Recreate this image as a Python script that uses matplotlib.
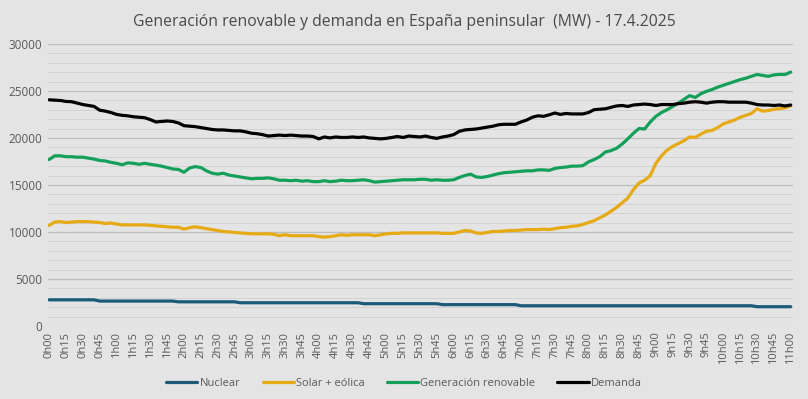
import matplotlib.pyplot as plt
from matplotlib.ticker import MultipleLocator

# 5-minute readings from 0h00 to 11h00 (133 points), MW
nuclear = [
    2780, 2780, 2780, 2780, 2780, 2780, 2780, 2780, 2780, 2650, 2650, 2650,
    2650, 2650, 2650, 2650, 2650, 2650, 2650, 2650, 2650, 2650, 2650, 2570,
    2570, 2570, 2570, 2570, 2570, 2570, 2570, 2570, 2570, 2570, 2470, 2470,
    2470, 2470, 2470, 2470, 2470, 2470, 2470, 2470, 2470, 2470, 2470, 2470,
    2470, 2470, 2470, 2470, 2470, 2470, 2470, 2470, 2370, 2370, 2370, 2370,
    2370, 2370, 2370, 2370, 2370, 2370, 2370, 2370, 2370, 2370, 2270, 2270,
    2270, 2270, 2270, 2270, 2270, 2270, 2270, 2270, 2270, 2270, 2270, 2270,
    2150, 2150, 2150, 2150, 2150, 2150, 2150, 2150, 2150, 2150, 2150, 2150,
    2150, 2150, 2150, 2150, 2150, 2150, 2150, 2150, 2150, 2150, 2150, 2150,
    2150, 2150, 2150, 2150, 2150, 2150, 2150, 2150, 2150, 2150, 2150, 2150,
    2150, 2150, 2150, 2150, 2150, 2150, 2050, 2050, 2050, 2050, 2050, 2050,
    2050,
]
solar_eolica = [
    10700, 11050, 11100, 11000, 11050, 11100, 11100, 11100, 11050, 11000, 10900, 10950,
    10850, 10750, 10750, 10750, 10750, 10750, 10700, 10650, 10600, 10550, 10500, 10500,
    10300, 10450, 10550, 10450, 10350, 10250, 10150, 10050, 10000, 9950, 9900, 9850,
    9800, 9800, 9800, 9800, 9750, 9600, 9700, 9600, 9600, 9600, 9600, 9600,
    9500, 9450, 9500, 9600, 9700, 9650, 9700, 9700, 9700, 9700, 9600, 9700,
    9800, 9850, 9850, 9900, 9900, 9900, 9900, 9900, 9900, 9900, 9850, 9850,
    9850, 10000, 10150, 10100, 9900, 9850, 9950, 10050, 10050, 10100, 10150, 10150,
    10200, 10250, 10250, 10250, 10300, 10250, 10350, 10450, 10500, 10600, 10650, 10800,
    11000, 11200, 11500, 11800, 12200, 12600, 13100, 13600, 14500, 15200, 15500, 16000,
    17300, 18100, 18700, 19100, 19400, 19700, 20100, 20050, 20400, 20700, 20800, 21100,
    21500, 21700, 21900, 22200, 22400, 22600, 23100, 22850, 22900, 23050, 23100, 23200,
    23400,
]
renovable = [
    17700, 18100, 18100, 18000, 18000, 17950, 17950, 17850, 17750, 17600, 17550, 17400,
    17300, 17150, 17350, 17300, 17200, 17300, 17200, 17100, 17000, 16850, 16700, 16650,
    16350, 16800, 16950, 16850, 16500, 16250, 16150, 16250, 16050, 15950, 15850, 15750,
    15650, 15700, 15700, 15750, 15650, 15500, 15500, 15450, 15500, 15400, 15450, 15350,
    15350, 15450, 15350, 15400, 15500, 15450, 15450, 15500, 15550, 15450, 15300, 15350,
    15400, 15450, 15500, 15550, 15550, 15550, 15600, 15600, 15500, 15550, 15500, 15500,
    15550, 15800, 16000, 16150, 15850, 15800, 15900, 16050, 16200, 16300, 16350, 16400,
    16450, 16500, 16500, 16600, 16600, 16550, 16750, 16850, 16900, 17000, 17000, 17050,
    17450, 17700, 18000, 18500, 18650, 18900, 19350, 19900, 20500, 21000, 20950, 21700,
    22300, 22700, 23000, 23350, 23700, 24100, 24500, 24300, 24700, 24950, 25150, 25400,
    25600, 25800, 26000, 26200, 26350, 26550, 26750, 26650, 26550, 26700, 26750, 26750,
    27000,
]
demanda = [
    24050, 24020, 23980, 23880, 23850, 23700, 23550, 23450, 23350, 22950, 22850, 22700,
    22500, 22400, 22350, 22250, 22200, 22150, 21950, 21700, 21750, 21800, 21750, 21600,
    21300, 21250, 21200, 21100, 21000, 20900, 20850, 20850, 20800, 20750, 20750, 20650,
    20500, 20450, 20350, 20200, 20250, 20300, 20250, 20300, 20250, 20200, 20200, 20150,
    19900, 20100, 20000, 20100, 20050, 20050, 20100, 20050, 20100, 20000, 19950, 19900,
    19950, 20050, 20150, 20050, 20200, 20150, 20100, 20200, 20050, 19950, 20100, 20200,
    20350, 20700, 20850, 20900, 20950, 21050, 21150, 21250, 21400, 21450, 21450, 21450,
    21700, 21900, 22200, 22350, 22300, 22450, 22650, 22500, 22600, 22550, 22550, 22550,
    22700, 23000, 23050, 23100, 23250, 23400, 23450, 23350, 23500, 23550, 23600, 23550,
    23450, 23550, 23550, 23550, 23650, 23700, 23800, 23850, 23800, 23700, 23800, 23850,
    23850, 23800, 23800, 23800, 23800, 23700, 23550, 23500, 23500, 23450, 23500, 23400,
    23500,
]
tick_labels = [f"{h}h{m:02d}" for h in range(11) for m in (0, 15, 30, 45)] + ["11h00"]

bg = "#e4e4e4"
txt = "#595959"
plt.rcParams['font.family'] = ['Open Sans', 'DejaVu Sans']

fig = plt.figure(figsize=(8.08, 3.99), dpi=100, facecolor=bg)
ax = fig.add_axes([0.0594, 0.183, 0.922, 0.707], facecolor=bg)

x = range(len(demanda))
series = [
    (nuclear, "#1b5a78", "Nuclear"),
    (solar_eolica, "#e6aa14", "Solar + eólica"),
    (renovable, "#14a05a", "Generación renovable"),
    (demanda, "#000000", "Demanda"),
]
for vals, color, label in series:
    ax.plot(x, vals, color=color, lw=2.3, label=label, solid_capstyle="round")

ax.set_xlim(-0.2, 132.4)
ax.set_ylim(0, 30000)
ax.yaxis.set_major_locator(MultipleLocator(5000))
ax.yaxis.set_minor_locator(MultipleLocator(1000))
ax.grid(which="major", axis="y", color="#bdbdbd", lw=0.9)
ax.grid(which="minor", axis="y", color="#d2d2d2", lw=0.7)
ax.set_axisbelow(True)
for s in ax.spines.values():
    s.set_visible(False)

ax.set_xticks(range(0, len(demanda), 3))
ax.set_xticklabels(tick_labels, rotation=90, fontsize=8, color=txt)
ax.tick_params(axis="both", length=0, pad=4)
ax.tick_params(axis="y", labelsize=8.5, labelcolor=txt, which="major")
ax.tick_params(axis="y", which="minor", length=0)

fig.suptitle("Generación renovable y demanda en España peninsular  (MW) - 17.4.2025",
             y=0.965, fontsize=11.3, color="#4a4a4a")
fig.legend(loc="center", bbox_to_anchor=(0.5, 0.04), ncol=4, frameon=False,
           fontsize=8, labelcolor=txt, handlelength=2.8, handletextpad=0.2,
           columnspacing=2.0)

fig.savefig("out.png", dpi=100, facecolor=bg)
